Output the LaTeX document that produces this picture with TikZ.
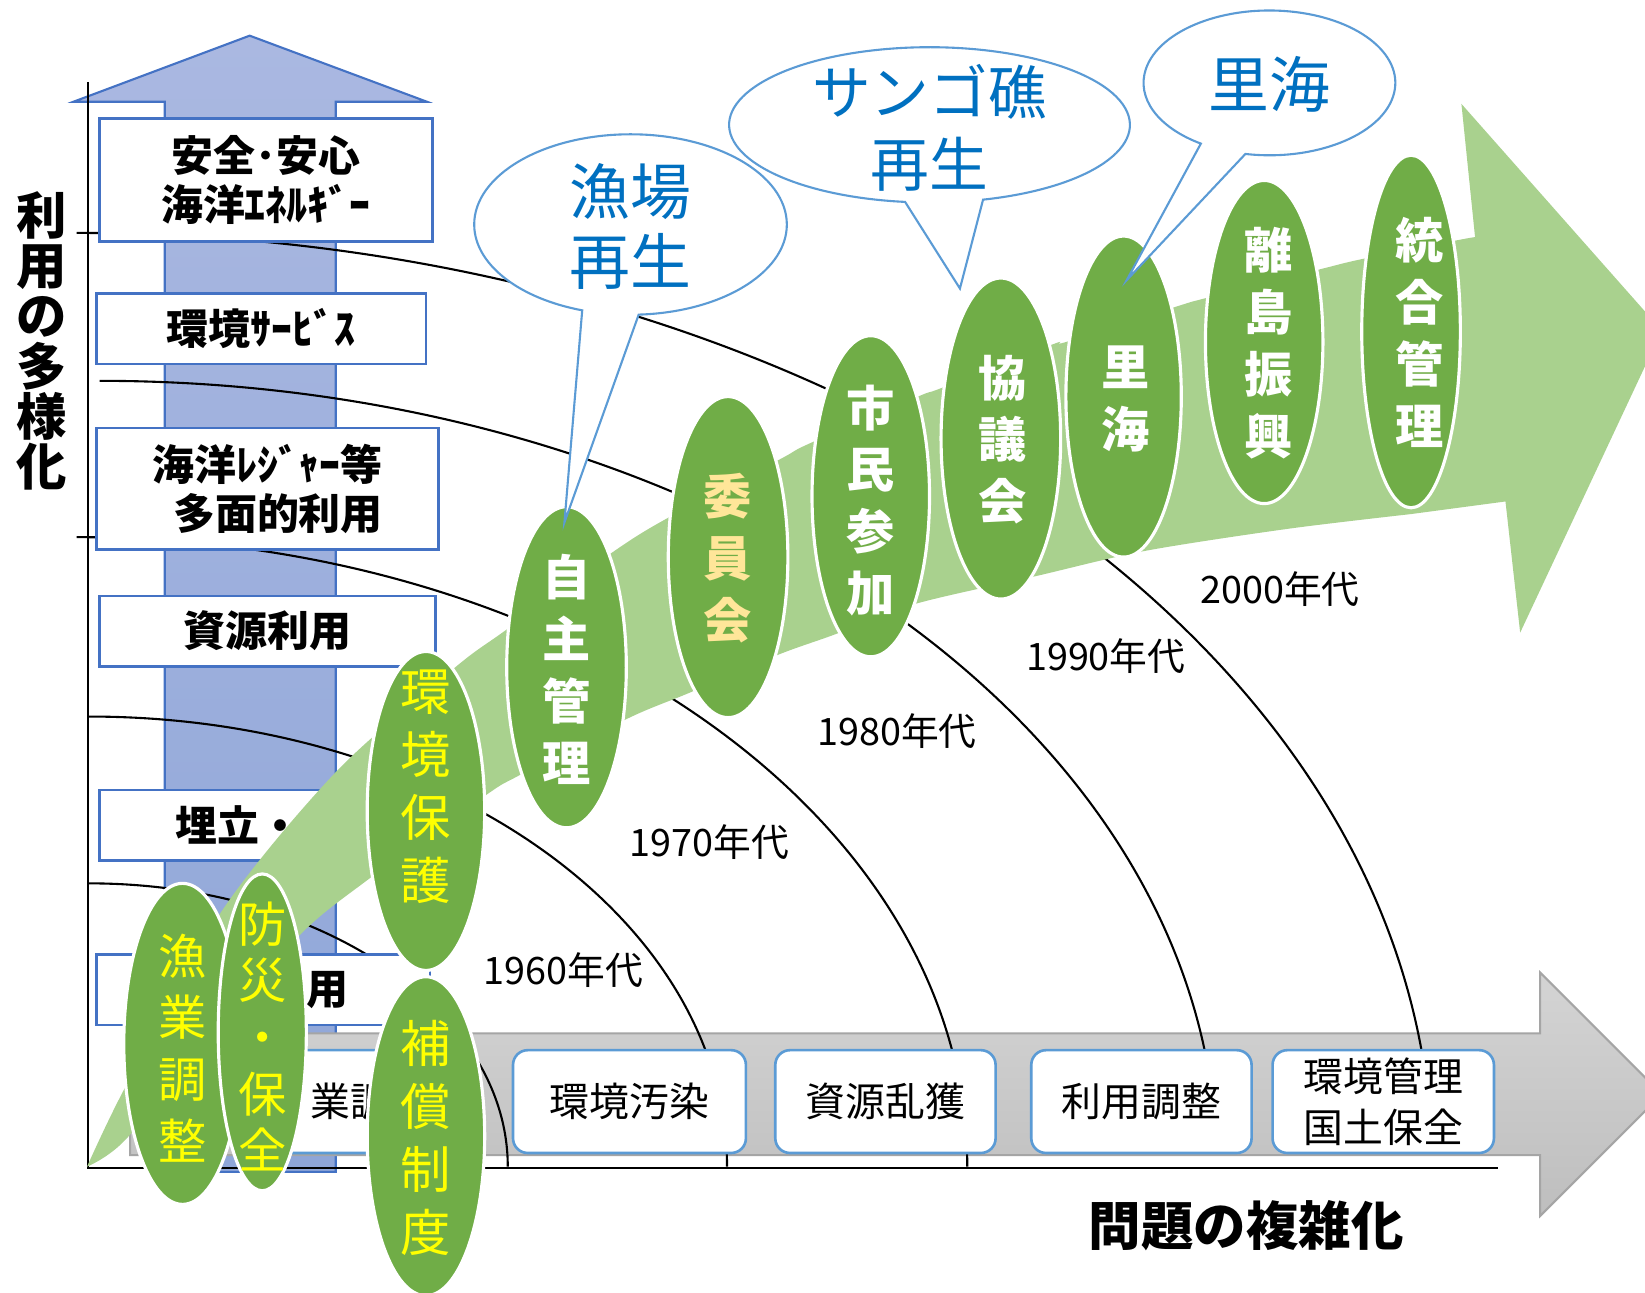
\documentclass[tikz,border=0pt]{standalone}
\usepackage{fontspec}
\setmainfont{Noto Sans CJK JP}
\usetikzlibrary{shapes.geometric,calc}
\definecolor{boxblue}{HTML}{4472C4}
\definecolor{lblue}{HTML}{5B9BD5}
\definecolor{dkgreen}{HTML}{70AD47}
\definecolor{ltgreen}{HTML}{A9D18E}
\definecolor{calltext}{HTML}{0070C0}
\definecolor{peach}{HTML}{FFE699}
\definecolor{ytext}{HTML}{FFFF00}
\definecolor{shafttop}{RGB}{170,184,225}
\definecolor{shaftbot}{RGB}{143,166,216}
\definecolor{graytop}{RGB}{212,212,212}
\definecolor{graybot}{RGB}{190,190,190}
\definecolor{grayedge}{RGB}{165,165,165}
\begin{document}
\begin{tikzpicture}[x=1pt,y=-1pt,
  lbox/.style={draw=boxblue,line width=2.5pt,fill=white,inner sep=0pt,align=center,font=\fontsize{40}{47}\selectfont\bfseries},
  ltxt/.style={inner sep=0pt,align=center,font=\fontsize{40}{47}\selectfont\bfseries},
  gbox/.style={draw=lblue,line width=2.5pt,fill=white,rounded corners=14pt,inner sep=0pt,align=center,font=\fontsize{38}{48}\selectfont},
  gtxt/.style={inner sep=0pt,align=center,font=\fontsize{38}{48}\selectfont},
  ell/.style={ellipse,draw=white,line width=3pt,fill=dkgreen,inner sep=0pt},
  ytxt/.style={text=ytext,align=center,inner sep=0pt,font=\fontsize{46}{59}\selectfont},
  wtxt/.style={text=white,align=center,inner sep=0pt,font=\fontsize{46}{59}\selectfont\bfseries},
  ctxt/.style={text=calltext,align=center,inner sep=0pt,font=\fontsize{58}{67}\selectfont},
  yr/.style={inner sep=0pt,font=\fontsize{36}{40}\selectfont},
  arcline/.style={line width=2pt},
  axisline/.style={line width=2pt},
  callout/.style={draw=lblue,line width=2pt,fill=white},
  ttl/.style={inner sep=0pt,align=center,font=\fontsize{48}{48}\selectfont\bfseries}
]
\path[use as bounding box] (0,0) rectangle (1568,1232);
\clip (0,0) rectangle (1568,1232);
\fill[white] (0,0) rectangle (1568,1232);

% blue upward arrow
\path[draw=boxblue,line width=2pt,top color=shafttop,bottom color=shaftbot]
  (157,1117) -- (157,97) -- (70,97) -- (238,34) -- (407,97) -- (320,97) -- (320,1117) -- cycle;

% gray right arrow
\path[draw=grayedge,line width=2pt,top color=graytop,bottom color=graybot]
  (124,985) -- (1468,985) -- (1468,927) -- (1584,1043) -- (1468,1159) -- (1468,1101) -- (124,1101) -- cycle;

% arcs
\draw[arcline] (73,222) arc[start angle=-90,end angle=-4,x radius=1292,y radius=890];
\draw[arcline] (95,363) arc[start angle=-90,end angle=-4.5,x radius=1065,y radius=749];
\draw[arcline] (73,512) arc[start angle=-90,end angle=0,x radius=849,y radius=600];
\draw[arcline] (85,683) arc[start angle=-90,end angle=0,x radius=608,y radius=429];
\draw[arcline] (85,842) arc[start angle=-90,end angle=0,x radius=399,y radius=270];

% axes
\coordinate (ytop) at (84,78);
\coordinate (orig) at (84,1113);
\coordinate (xend) at (1428,1113);
\draw[axisline] (ytop) -- (orig) -- (xend);

% left boxes
\node[lbox,minimum width=317pt,minimum height=117pt] (ba) at (253.5,171.5) {安全･安心\\海洋ｴﾈﾙｷﾞｰ};
\node[lbox,minimum width=314pt,minimum height=67pt] (bb) at (249,313.5) {環境ｻｰﾋﾞｽ};
\node[lbox,minimum width=326pt,minimum height=116pt] (bc) at (255,466) {};
\node[ltxt,align=right] (bct) at (255,466) {海洋ﾚｼﾞｬｰ等\\ 多面的利用};
\node[lbox,minimum width=320pt,minimum height=67pt] (bd) at (255,601.5) {資源利用};
\node[lbox,minimum width=320pt,minimum height=67pt] (be) at (255,786.5) {};
\node[ltxt,anchor=west] (bet) at (167,787) {埋立・干拓};
\node[lbox,minimum width=318pt,minimum height=67pt] (bf) at (251,943.5) {};
\node[ltxt] (bft) at (312,943.5) {用};

% gray arrow boxes
\node[gbox,minimum width=220pt,minimum height=98pt] (g0) at (338,1050) {};
\node[gtxt,anchor=west] (g0t) at (296,1050) {業調};
\node[gbox,minimum width=222pt,minimum height=98pt] (g1) at (600,1050) {環境汚染};
\node[gbox,minimum width=210pt,minimum height=98pt] (g2) at (844,1050) {資源乱獲};
\node[gbox,minimum width=210pt,minimum height=98pt] (g3) at (1088,1050) {利用調整};
\node[gbox,minimum width=211pt,minimum height=98pt] (g4) at (1318.5,1050) {環境管理\\国土保全};

% green curved arrow
\fill[ltgreen] plot[smooth,tension=0.5] coordinates {(83,1112) (119,1037) (211,869) (321,735) (434,636) (483,600) (583,527) (636,494) (743,438) (771,423) (875,378) (897,370) (1004,328) (1016,326) (1122,292) (1150,284) (1257,257) (1298,247) (1389,229) (1406,226)}
  -- (1393,99) -- (1584,315) -- (1449,603) -- (1435,478)
  -- plot[smooth,tension=0.5] coordinates {(1345,490) (1228,504) (1092,525) (988,549) (871,576) (795,605) (742,624) (658,660) (598,685) (495,739) (463,758) (350,839) (286,891) (200,990) (119,1087) (83,1112)}
  -- cycle;

% ellipses
\node[ell,minimum width=112pt,minimum height=306pt] (e1) at (174,995) {};
\node[ytxt] (t1) at (174,999) {漁\\業\\調\\整};
\node[ell,minimum width=84pt,minimum height=302pt] (e2) at (250,984) {};
\node[ytxt,font=\fontsize{46}{54}\selectfont] (t2) at (250,988) {防\\災\\・\\保\\全};
\node[ell,minimum width=112pt,minimum height=304pt] (e3) at (406,773) {};
\node[ytxt,font=\fontsize{48}{60}\selectfont] (t3) at (406,750) {環\\境\\保\\護};
\node[ell,minimum width=112pt,minimum height=304pt] (e4) at (406,1083) {};
\node[ytxt,font=\fontsize{48}{60}\selectfont] (t4) at (406,1085) {補\\償\\制\\度};
\node[ell,minimum width=114pt,minimum height=306pt] (e5) at (540,636) {};
\node[wtxt] (t5) at (540,638) {自\\主\\管\\理};
\node[ell,minimum width=114pt,minimum height=306pt] (e6) at (694,531) {};
\node[wtxt,text=peach] (t6) at (694,532) {委\\員\\会};
\node[ell,minimum width=112pt,minimum height=306pt] (e7) at (830,473) {};
\node[wtxt] (t7) at (830,477) {市\\民\\参\\加};
\node[ell,minimum width=114pt,minimum height=306pt] (e8) at (954,418) {};
\node[wtxt] (t8) at (956,419) {協\\議\\会};
\node[ell,minimum width=110pt,minimum height=306pt] (e9) at (1071,378) {};
\node[wtxt] (t9) at (1073,380) {里\\海};
\node[ell,minimum width=112pt,minimum height=308pt] (e10) at (1205,326) {};
\node[wtxt] (t10) at (1209,327) {離\\島\\振\\興};
\node[ell,minimum width=94pt,minimum height=336pt] (e11) at (1345,316) {};
\node[wtxt] (t11) at (1353,317) {統\\合\\管\\理};

% callouts
\draw[callout] ([shift={(886,119)}]74.5:191 and 74) arc[start angle=74.5,end angle=-263,x radius=191,y radius=74] -- (915,275) -- cycle;
\node[ctxt,font=\fontsize{56}{69}\selectfont] (c2) at (886,122) {サンゴ礁\\再生};
\draw[callout] ([shift={(601,214)}]87:149 and 86) arc[start angle=87,end angle=-252,x radius=149,y radius=86] -- (538,498) -- cycle;
\node[ctxt] (c1) at (601,216) {漁場\\再生};
\draw[callout] ([shift={(1210,79)}]101:120 and 69) arc[start angle=101,end angle=-237,x radius=120,y radius=69] -- (1074,267) -- cycle;
\node[ctxt] (c3) at (1210,80) {里海};

% decade labels
\node[yr] (y60) at (537,925) {1960年代};
\node[yr] (y70) at (676,803) {1970年代};
\node[yr] (y80) at (855,697) {1980年代};
\node[yr] (y90) at (1054,625) {1990年代};
\node[yr] (y00) at (1220,562) {2000年代};

% axis titles
\node[ttl] (vt) at (40,325) {利\\用\\の\\多\\様\\化};
\node[ttl,font=\fontsize{50}{50}\selectfont\bfseries] (ht) at (1188,1168) {問題の複雑化};
\end{tikzpicture}
\end{document}
